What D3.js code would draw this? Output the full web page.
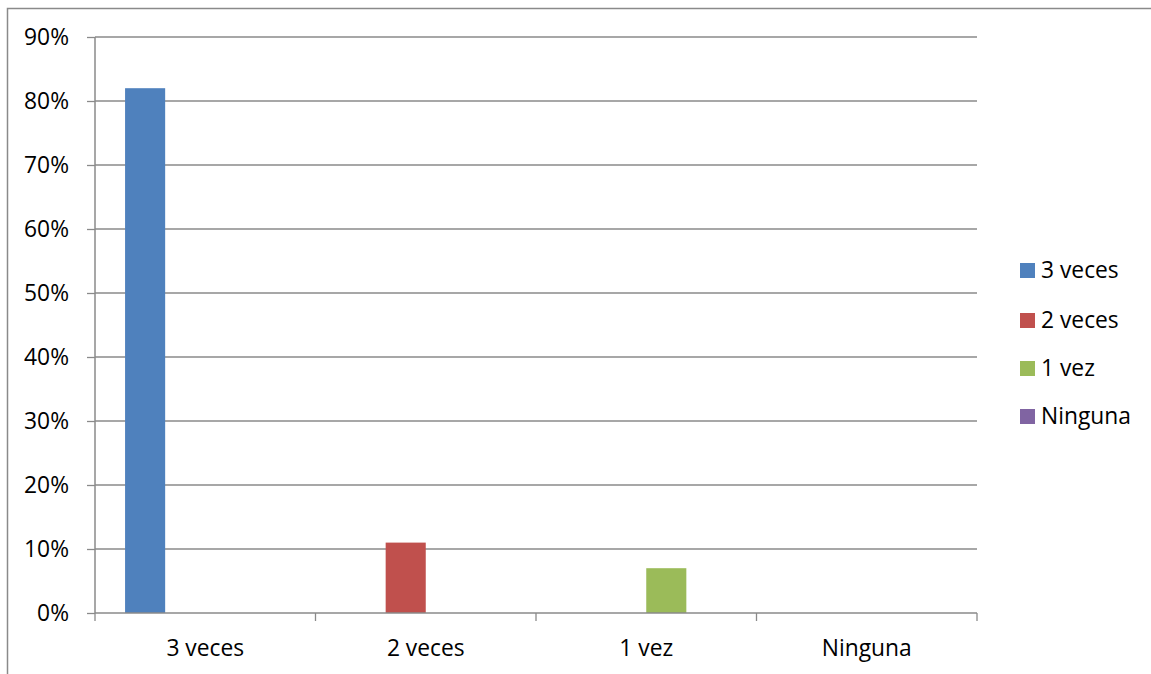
<!DOCTYPE html>
<html>
<head>
<meta charset="utf-8">
<script src="https://cdn.jsdelivr.net/npm/d3@7"></script>
<style>
  html, body { margin: 0; padding: 0; background: #fff; }
  svg { display: block; font-family: "Open Sans", Lato, sans-serif; }
</style>
</head>
<body>
<svg id="chart" width="1151" height="674"></svg>
<script>
const categories = ["3 veces", "2 veces", "1 vez", "Ninguna"];
const seriesNames = ["3 veces", "2 veces", "1 vez", "Ninguna"];
const seriesColors = ["#4f81bd", "#c0504d", "#9bbb59", "#8064a2"];
// one row per series, one value per category
const values = [
  [0.82, 0, 0, 0],
  [0, 0.11, 0, 0],
  [0, 0, 0.07, 0],
  [0, 0, 0, 0]
];
const yTicks = [0, 0.1, 0.2, 0.3, 0.4, 0.5, 0.6, 0.7, 0.8, 0.9];

const FONT = "'Open Sans', Lato, sans-serif";
const FS = 22.8;
const svg = d3.select("#chart");
const plot = { left: 95, right: 977, top: 37, bottom: 613 };

// outer chart frame
svg.append("rect")
  .attr("x", 7.5).attr("y", 8.5)
  .attr("width", 1200).attr("height", 700)
  .attr("fill", "none").attr("stroke", "#8a8a8a").attr("stroke-width", 1.5);

const x0 = d3.scaleBand().domain(categories).range([plot.left, plot.right]).paddingInner(0).paddingOuter(0);
const bw = x0.bandwidth() / (seriesNames.length + 1.5);
const x1 = d3.scaleBand().domain(seriesNames)
  .range([0.75 * bw, 0.75 * bw + bw * seriesNames.length]);
const y = d3.scaleLinear().domain([0, 0.9]).range([plot.bottom, plot.top]);

// horizontal gridlines
svg.append("g").selectAll("line").data(yTicks.slice(1)).join("line")
  .attr("x1", plot.left).attr("x2", plot.right)
  .attr("y1", d => y(d)).attr("y2", d => y(d))
  .attr("stroke", "#8a8a8a").attr("stroke-width", 1.3);

// y axis
const yAxis = svg.append("g").attr("transform", `translate(${plot.left},0)`)
  .call(d3.axisLeft(y).tickValues(yTicks).tickFormat(d3.format(".0%")).tickSize(8).tickPadding(18));
yAxis.select(".domain").attr("stroke", "#8a8a8a").attr("stroke-width", 1.5).attr("d", `M0,${plot.top}V${plot.bottom}`);
yAxis.selectAll(".tick line").attr("stroke", "#8a8a8a").attr("stroke-width", 1.3);
yAxis.selectAll(".tick text").attr("font-size", FS).attr("fill", "#000").attr("font-family", FONT);

// bars
svg.append("g").selectAll("g").data(seriesNames).join("g")
  .attr("fill", (d, i) => seriesColors[i])
  .selectAll("rect")
  .data((s, i) => categories.map((c, j) => ({ s, c, v: values[i][j] })))
  .join("rect")
  .attr("x", d => x0(d.c) + x1(d.s))
  .attr("width", x1.bandwidth())
  .attr("y", d => y(d.v))
  .attr("height", d => y(0) - y(d.v));

// x axis
const xAxis = svg.append("g").attr("transform", `translate(0,${plot.bottom})`)
  .call(d3.axisBottom(x0).tickSize(0).tickPadding(27));
xAxis.select(".domain").remove();
xAxis.append("line").attr("x1", plot.left).attr("x2", plot.right)
  .attr("stroke", "#8a8a8a").attr("stroke-width", 1.5);
xAxis.selectAll(".sep").data(d3.range(categories.length + 1)).join("line")
  .attr("class", "sep")
  .attr("x1", i => plot.left + i * x0.bandwidth()).attr("x2", i => plot.left + i * x0.bandwidth())
  .attr("y1", 0).attr("y2", 8)
  .attr("stroke", "#8a8a8a").attr("stroke-width", 1.3);
xAxis.selectAll(".tick text").attr("font-size", FS).attr("fill", "#000").attr("font-family", FONT);

// legend
const legendY = [270, 320, 368, 416];
const legend = svg.append("g").selectAll("g").data(seriesNames).join("g")
  .attr("transform", (d, i) => `translate(1020,${legendY[i]})`);
legend.append("rect").attr("x", 0).attr("y", -7).attr("width", 15).attr("height", 15)
  .attr("fill", (d, i) => seriesColors[i]);
legend.append("text").attr("x", 21).attr("y", 0).attr("dy", "0.35em")
  .attr("font-size", FS).attr("font-family", FONT).attr("fill", "#000").text(d => d);
</script>
</body>
</html>
